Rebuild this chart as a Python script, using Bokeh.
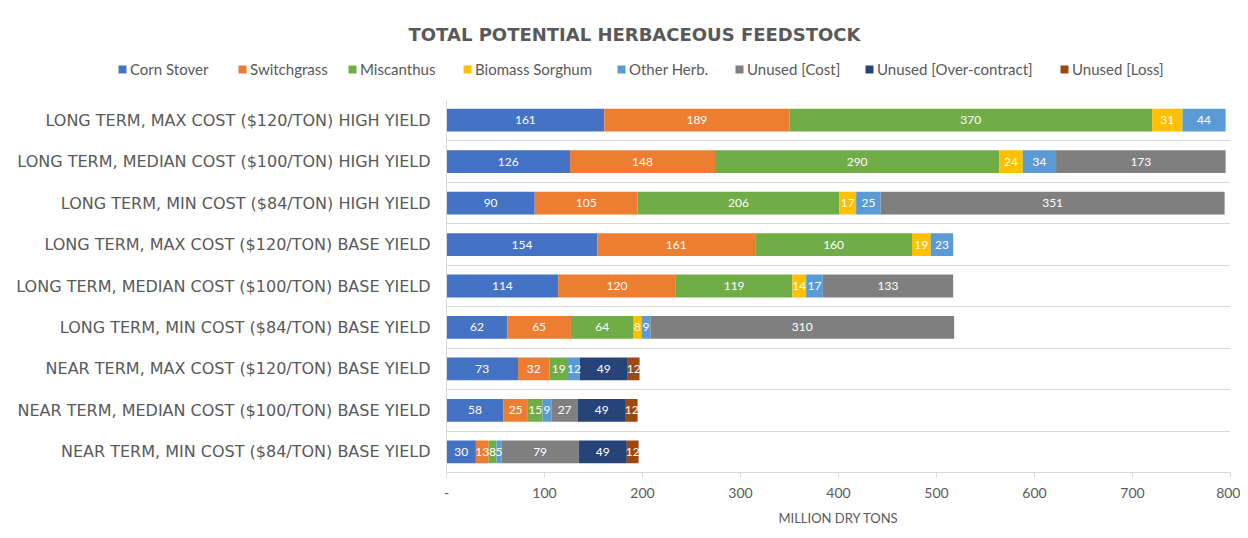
from bokeh.plotting import figure
from bokeh.layouts import column
from bokeh.models import ColumnDataSource, FixedTicker, Legend, LegendItem, Label, Range1d
from bokeh.core.properties import value
from bokeh.embed import file_html
from bokeh.resources import INLINE

# ---------------- data ----------------
categories = [
    "LONG TERM, MAX COST ($120/TON) HIGH YIELD",
    "LONG TERM, MEDIAN COST ($100/TON) HIGH YIELD",
    "LONG TERM, MIN COST ($84/TON) HIGH YIELD",
    "LONG TERM, MAX COST ($120/TON) BASE YIELD",
    "LONG TERM, MEDIAN COST ($100/TON) BASE YIELD",
    "LONG TERM, MIN COST ($84/TON) BASE YIELD",
    "NEAR TERM, MAX COST ($120/TON) BASE YIELD",
    "NEAR TERM, MEDIAN COST ($100/TON) BASE YIELD",
    "NEAR TERM, MIN COST ($84/TON) BASE YIELD",
]
series_names = ["Corn Stover", "Switchgrass", "Miscanthus", "Biomass Sorghum",
                "Other Herb.", "Unused [Cost]", "Unused [Over-contract]", "Unused [Loss]"]
corn_stover = [161, 126, 90, 154, 114, 62, 73, 58, 30]
switchgrass = [189, 148, 105, 161, 120, 65, 32, 25, 13]
miscanthus = [370, 290, 206, 160, 119, 64, 19, 15, 8]
biomass_sorghum = [31, 24, 17, 19, 14, 8, 0, 0, 0]
other_herb = [44, 34, 25, 23, 17, 9, 12, 9, 5]
unused_cost = [0, 173, 351, 0, 133, 310, 0, 27, 79]
unused_over_contract = [0, 0, 0, 0, 0, 0, 49, 49, 49]
unused_loss = [0, 0, 0, 0, 0, 0, 12, 12, 12]
x_ticks = [0, 100, 200, 300, 400, 500, 600, 700, 800]
x_tick_labels = ["-", "100", "200", "300", "400", "500", "600", "700", "800"]
title_text = "TOTAL POTENTIAL HERBACEOUS FEEDSTOCK"
x_title = "MILLION DRY TONS"

series_values = [corn_stover, switchgrass, miscanthus, biomass_sorghum,
                 other_herb, unused_cost, unused_over_contract, unused_loss]
colors = ["#4472C4", "#ED7D31", "#70AD47", "#FFC000", "#5B9BD5", "#7F7F7F", "#264478", "#9E480E"]
keys = ["s%d" % i for i in range(len(series_names))]

GRAY = "#595959"
LIGHT = "#D9D9D9"
W = 1240
TOP_H = 94

# ---------------- header figure: title + legend ----------------
head = figure(width=W, height=TOP_H, output_backend="svg", toolbar_location=None,
              x_range=Range1d(0, 1), y_range=Range1d(0, 1),
              x_axis_type=None, y_axis_type=None, frame_align=False,
              min_border_left=0, min_border_right=0, min_border_top=0, min_border_bottom=0)
head.outline_line_color = None
head.xgrid.visible = False
head.ygrid.visible = False

legend_x = [117, 237, 347, 462, 616, 734, 864, 1059]  # legend key positions (px)
for name, col, lx in zip(series_names, colors, legend_x):
    # zero-width key renderer: only its legend swatch is visible
    r = head.hbar(y=[0.5], left=[0], right=[0], height=0.1, fill_color=col, line_color=None)
    head.add_layout(Legend(items=[LegendItem(label=name, renderers=[r])], location=(lx, 16),
                           orientation="horizontal", glyph_width=10, glyph_height=10,
                           label_standoff=3, padding=0, margin=0, spacing=0,
                           border_line_alpha=0, background_fill_alpha=0, label_height=16,
                           label_text_font="Lato", label_text_font_size="15px",
                           label_text_color=GRAY))

head.add_layout(Label(x=634, y=TOP_H - 34, x_units="screen", y_units="screen", text=title_text,
                      text_align="center", text_baseline="middle", text_font="DejaVu Sans",
                      text_font_style="bold", text_font_size="18px", text_color=GRAY))

# ---------------- main chart ----------------
n = len(categories)
ypos = [n - 1 - i for i in range(n)]  # first category on top

data = {"y": ypos}
for k, vals in zip(keys, series_values):
    data[k] = vals
source = ColumnDataSource(data)

p = figure(width=W, height=530 - TOP_H, output_backend="svg", toolbar_location=None,
           x_range=Range1d(0, 800), y_range=Range1d(-0.5, n - 0.5), frame_align=False,
           min_border_left=446, min_border_right=10, min_border_top=5, min_border_bottom=58)
p.outline_line_color = None

renderers = p.hbar_stack(keys, y="y", height=0.55, color=colors, source=source, line_color=None)

# data labels
lx_, ly_, lt_ = [], [], []
for row in range(n):
    left = 0
    for vals in series_values:
        v = vals[row]
        if v > 0:
            lx_.append(left + v / 2.0)
            ly_.append(ypos[row])
            lt_.append(str(v))
        left += v
p.text(x="x", y="y", text="t", source=ColumnDataSource(dict(x=lx_, y=ly_, t=lt_)),
       text_color="white", text_font=value("Lato"), text_font_size="12px",
       text_align="center", text_baseline="middle")

# grid
p.xgrid.visible = False
p.ygrid.ticker = FixedTicker(ticks=[i - 0.5 for i in range(n + 1)])
p.ygrid.grid_line_color = LIGHT
p.ygrid.grid_line_width = 1

# x axis
p.xaxis.ticker = FixedTicker(ticks=x_ticks)
p.xaxis.major_label_overrides = {t: l for t, l in zip(x_ticks, x_tick_labels)}
p.xaxis.axis_line_color = LIGHT
p.xaxis.major_tick_line_color = LIGHT
p.xaxis.major_tick_out = 5
p.xaxis.major_tick_in = 0
p.xaxis.minor_tick_line_color = None
p.xaxis.major_label_text_color = GRAY
p.xaxis.major_label_text_font = "Lato"
p.xaxis.major_label_text_font_size = "14px"
p.xaxis.major_label_standoff = 10
p.xaxis.axis_label = x_title
p.xaxis.axis_label_text_color = GRAY
p.xaxis.axis_label_text_font = "Lato"
p.xaxis.axis_label_text_font_size = "13px"
p.xaxis.axis_label_text_font_style = "normal"
p.xaxis.axis_label_standoff = 9

# y axis
p.yaxis.ticker = FixedTicker(ticks=ypos)
p.yaxis.major_label_overrides = {y: c for y, c in zip(ypos, categories)}
p.yaxis.axis_line_color = LIGHT
p.yaxis.major_tick_line_color = None
p.yaxis.minor_tick_line_color = None
p.yaxis.major_label_text_color = GRAY
p.yaxis.major_label_text_font = "DejaVu Sans"
p.yaxis.major_label_text_font_size = "16px"
p.yaxis.major_label_standoff = 10

layout = column(head, p, spacing=0)
open("out.html", "w").write(file_html(layout, INLINE))
